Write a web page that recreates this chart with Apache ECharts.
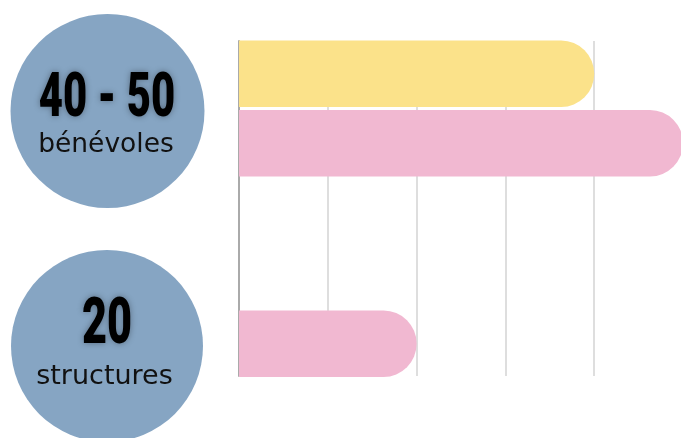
<!DOCTYPE html>
<html>
<head>
<meta charset="utf-8">
<script src="https://cdn.jsdelivr.net/npm/echarts@6/dist/echarts.min.js"></script>
<style>html,body{margin:0;padding:0;background:#fff}#c{width:681px;height:438px}</style>
</head>
<body>
<div id="c"></div>
<script>
var categories = ['bénévoles', 'structures'];
var seriesYellow = [40, null];
var seriesPink = [50, 20];
var bigLabels = ['40 - 50', '20'];
var smallLabels = ['bénévoles', 'structures'];

var chart = echarts.init(document.getElementById('c'));
var bigFont = "Roboto, 'Liberation Sans', sans-serif";
chart.setOption({
  animation: false,
  backgroundColor: '#ffffff',
  grid: [
    { left: 239, width: 444, top: 41, height: 335, outerBoundsMode: 'none', containLabel: false },
    { left: 239, width: 444, top: 8.25, height: 401, outerBoundsMode: 'none', containLabel: false }
  ],
  xAxis: [
    { gridIndex: 0, type: 'value', min: 0, max: 50, interval: 10,
      axisLine: { show: false }, axisTick: { show: false }, axisLabel: { show: false },
      splitLine: { show: true, lineStyle: { color: '#dedede', width: 2 } } },
    { gridIndex: 1, type: 'value', min: 0, max: 50, show: false, splitLine: { show: false } }
  ],
  yAxis: [
    { gridIndex: 0, type: 'category', data: categories, inverse: true,
      axisLine: { show: true, lineStyle: { color: '#aaaaaa', width: 2 } },
      axisTick: { show: false }, axisLabel: { show: false }, splitLine: { show: false } },
    { gridIndex: 1, type: 'category', data: categories, inverse: true, show: false }
  ],
  series: [
    { type: 'bar', xAxisIndex: 1, yAxisIndex: 1, data: seriesYellow,
      barWidth: 66.5, barGap: '4.5%',
      itemStyle: { color: '#FBE28A', borderRadius: [0, 33, 33, 0] } },
    { type: 'bar', xAxisIndex: 1, yAxisIndex: 1, data: seriesPink,
      barWidth: 66.5, barGap: '4.5%',
      itemStyle: { color: '#F1B8D1', borderRadius: [0, 33, 33, 0] } }
  ],
  graphic: [
    { type: 'circle', shape: { cx: 107.5, cy: 111, r: 97 }, style: { fill: '#86A5C3' }, z: 1 },
    { type: 'circle', shape: { cx: 107, cy: 346, r: 96 }, style: { fill: '#86A5C3' }, z: 1 },
    { type: 'text', x: 107, y: 100.5, z: 2, scaleX: 0.69,
      style: { text: bigLabels[0], font: "900 60.5px " + bigFont, fill: '#000',
        textAlign: 'center', textVerticalAlign: 'middle',
        textShadowColor: 'rgba(0,0,0,0.35)', textShadowBlur: 6 } },
    { type: 'text', x: 106, y: 145.5, z: 2,
      style: { text: smallLabels[0], font: "26.5px 'DejaVu Sans', sans-serif", fill: '#111',
        textAlign: 'center', textVerticalAlign: 'middle' } },
    { type: 'text', x: 107, y: 326.5, z: 2, scaleX: 0.67,
      style: { text: bigLabels[1], font: "900 64.5px " + bigFont, fill: '#000',
        textAlign: 'center', textVerticalAlign: 'middle',
        textShadowColor: 'rgba(0,0,0,0.35)', textShadowBlur: 6 } },
    { type: 'text', x: 104.5, y: 377, z: 2,
      style: { text: smallLabels[1], font: "27px 'DejaVu Sans', sans-serif", fill: '#111',
        textAlign: 'center', textVerticalAlign: 'middle' } }
  ]
});
</script>
</body>
</html>
